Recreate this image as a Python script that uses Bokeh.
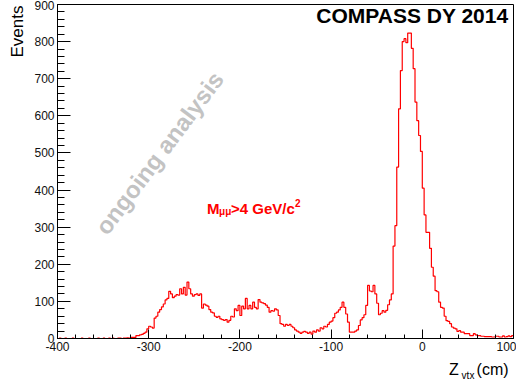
import math
from bokeh.plotting import figure
from bokeh.models import Label, SingleIntervalTicker
from bokeh.embed import file_html
from bokeh.resources import INLINE

# ---------------- data ----------------
x_min = -400
x_max = 100
bin_width = 2

counts_far = [0, 1, 0, 0, 1, 0, 0, 0, 1, 0, 0, 0, 0, 1, 0, 0, 0, 1, 0, 0,
              0, 0, 1, 0, 0, 1, 0, 0, 1, 0, 1, 0, 0, 1, 1, 0, 1, 1, 2]          # -400 .. -324
counts_bump1 = [1, 3, 3, 3, 8, 8, 10, 11, 14, 17, 26, 33, 31, 28, 55, 60, 71, 78, 85, 93,
                104, 108, 127, 120, 110, 114, 118, 117, 134, 120, 138, 117, 152, 134, 120, 114,
                118, 120, 116, 120, 82, 93, 90, 87, 78, 71, 69, 60, 57, 60, 53, 51, 49, 51,
                44, 49, 60, 58, 80, 75, 89, 62, 87, 80, 108, 80, 89, 80, 98, 84, 80, 105]  # -322 .. -180
counts_bump2 = [98, 96, 94, 90, 84, 71, 75, 74, 80, 77, 62, 40, 38, 33, 38, 35, 38, 33, 29, 23,
                20, 17, 14, 17, 19, 17, 14]                                       # -178 .. -126
counts_mid = [17, 12, 20, 17, 23, 20, 29, 26, 33, 31, 38, 44, 47, 56, 68, 71, 77, 84, 98, 84,
              66, 44, 17, 17, 17, 20, 23, 35, 50, 56, 64, 89]                     # -124 .. -62
counts_pre = [143, 128, 126, 143, 120, 95, 64, 68, 75, 71, 76, 91, 104, 120]      # -60 .. -34
counts_peak = [249, 304, 462, 619, 722, 800, 808, 797, 823, 823, 782, 727, 637, 587, 547,
               504, 405, 333, 286, 286, 243, 192, 168, 129, 126, 98, 84, 82, 60, 48,
               46, 40, 31, 28, 26, 19, 21, 17, 17, 13, 13, 13, 8, 8, 13, 10, 8, 8, 6, 6,
               5, 5, 5, 5, 4, 4, 6, 6, 4, 4, 7, 4, 5, 7, 5, 8]                    # -32 .. 98

counts = counts_far + counts_bump1 + counts_bump2 + counts_mid + counts_pre + counts_peak

x_ticks = [-400, -300, -200, -100, 0, 100]
x_tick_labels = ["-400", "-300", "-200", "-100", "0", "100"]
y_ticks = [0, 100, 200, 300, 400, 500, 600, 700, 800, 900]
y_tick_labels = ["0", "100", "200", "300", "400", "500", "600", "700", "800", "900"]

title_text = "COMPASS DY 2014"
watermark_text = "ongoing analysis"
y_title = "Events"
x_title_main = "Z\u00a0\u00a0\u00a0\u00a0(cm)"
x_title_sub = "vtx"

# ---------------- figure ----------------
p = figure(width=516, height=384, x_range=(x_min, x_max), y_range=(0, 900),
           output_backend="svg", toolbar_location=None,
           min_border_left=57, min_border_right=3, min_border_top=4, min_border_bottom=46)
p.background_fill_color = "white"
p.border_fill_color = "white"
p.outline_line_color = "black"
p.outline_line_width = 1
p.grid.visible = False

FONT = "Liberation Sans"

p.xaxis.ticker = SingleIntervalTicker(interval=100, num_minor_ticks=5)
p.yaxis.ticker = SingleIntervalTicker(interval=100, num_minor_ticks=5)
p.xaxis.major_label_overrides = {t: s for t, s in zip(x_ticks, x_tick_labels)}
p.yaxis.major_label_overrides = {t: s for t, s in zip(y_ticks, y_tick_labels)}

for ax in (p.xaxis[0], p.yaxis[0]):
    ax.axis_line_color = "black"
    ax.major_tick_line_color = "black"
    ax.minor_tick_line_color = "black"
    ax.major_tick_out = 0
    ax.minor_tick_out = 0
    ax.major_label_text_font = FONT
    ax.major_label_text_font_size = "12px"
    ax.major_label_text_color = "#111111"

p.xaxis.major_tick_in = 9
p.xaxis.minor_tick_in = 4
p.xaxis.major_label_standoff = 3
p.yaxis.major_tick_in = 13
p.yaxis.minor_tick_in = 7
p.yaxis.major_label_standoff = 3

# histogram (step line)
edges = [x_min + i * bin_width for i in range(len(counts) + 1)]
p.step(x=edges, y=counts + [counts[-1]], mode="after", line_color="#ff0000", line_width=1.2)

# ---------------- texts ----------------
def lab(x, y, text, size, bold=False, color="black", align="left", angle=0, place="center"):
    lbl = Label(x=x, y=y, text=text, text_font=FONT,
                text_font_style="bold" if bold else "normal",
                text_font_size=size, text_align=align, text_baseline="middle",
                angle=angle, angle_units="deg", text_color=color)
    p.add_layout(lbl, place)

lab(94.5, 871.2, title_text, "21px", bold=True, align="right")
lab(-288.2, 499.9, watermark_text, "24px", bold=True, color="#c3c3c3", align="center", angle=53.2)

# M_mumu > 4 GeV/c^2
red = "#ff0000"
lab(-236.1, 349.5, "M", "15px", bold=True, color=red)
lab(-222.9, 340.9, "μμ", "10px", bold=True, color=red)
lab(-209.8, 349.5, ">4 GeV/c", "15px", bold=True, color=red)
lab(-139.6, 363.8, "2", "10px", bold=True, color=red)

# axis titles, placed in side panels so they are not clipped to the frame
lab(-443.9, 897.3, y_title, "17px", align="right", angle=90, place="left")
lab(29.3, -82.2, x_title_main, "16px", place="below")
lab(43.1, -98.4, x_title_sub, "10px", place="below")

open("out.html", "w").write(file_html(p, INLINE))
